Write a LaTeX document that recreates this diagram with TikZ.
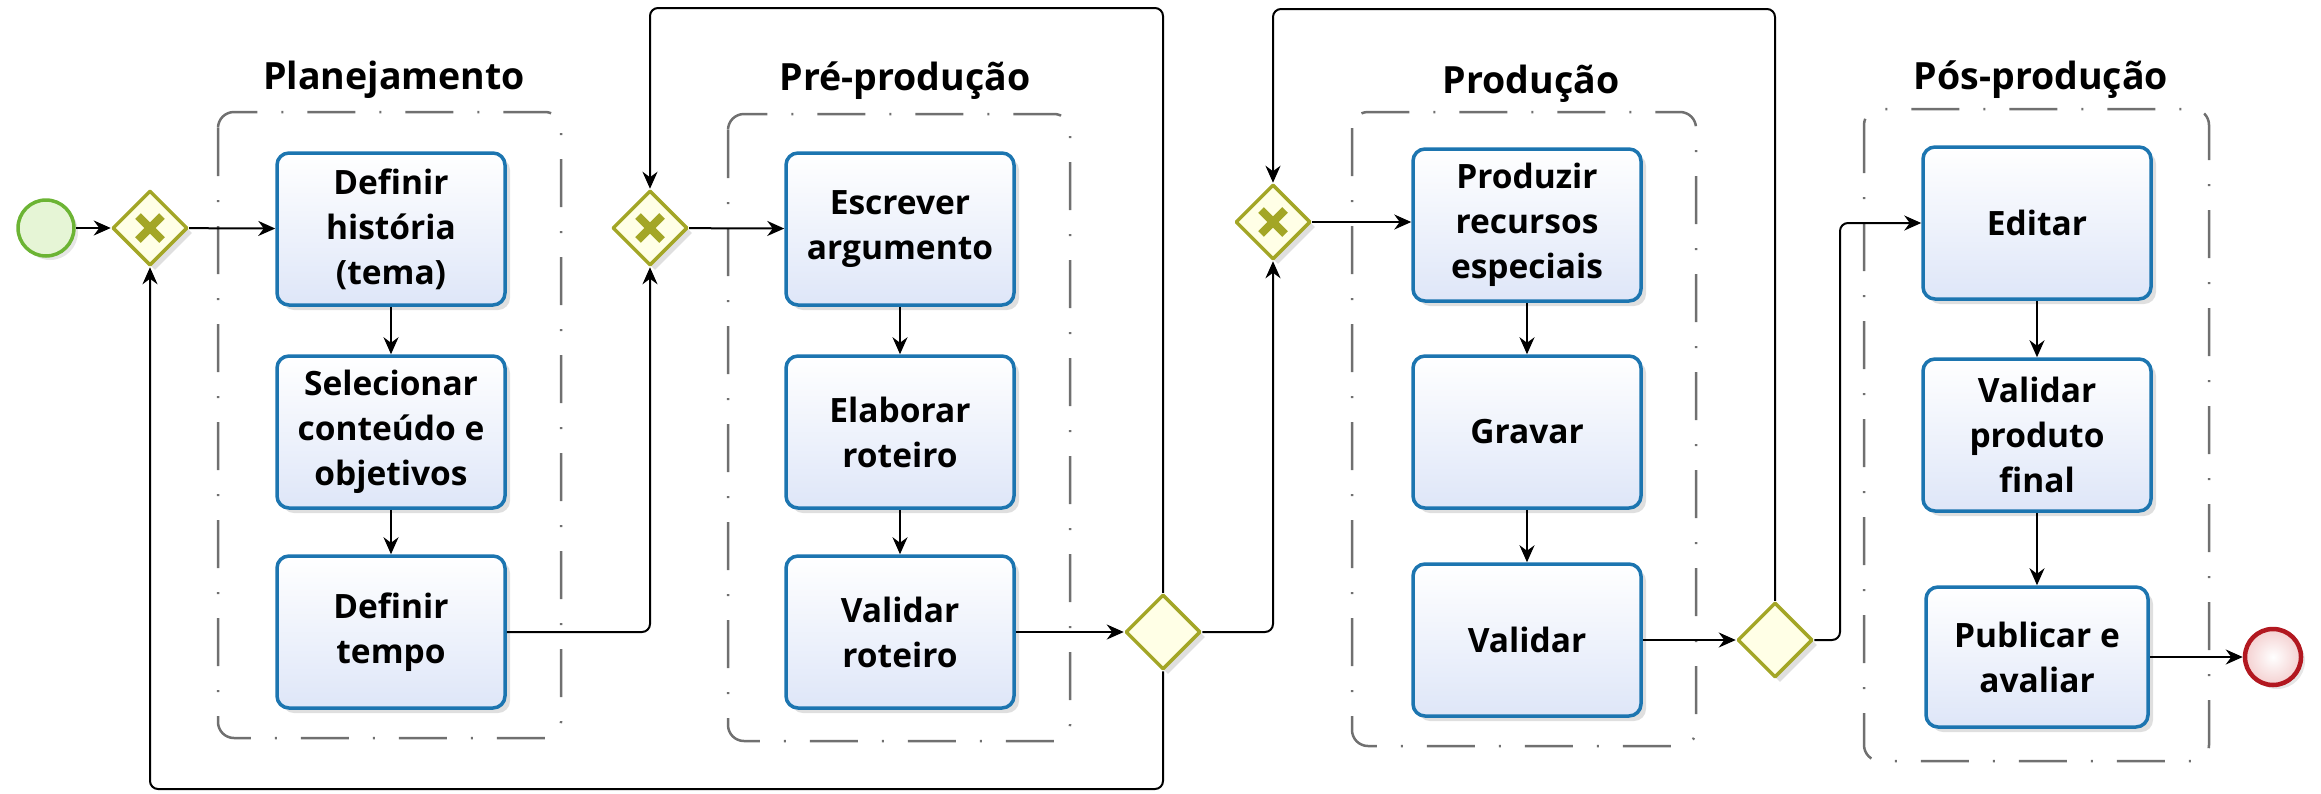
\documentclass[tikz,border=0pt]{standalone}
\usepackage{fontspec}
\setmainfont{Open Sans}
\usetikzlibrary{arrows.meta,shapes.geometric,shadows,positioning}
\definecolor{taskline}{RGB}{28,117,176}
\definecolor{taskfill}{RGB}{222,230,248}
\definecolor{gateline}{RGB}{163,166,38}
\definecolor{gatefill}{RGB}{255,255,230}
\definecolor{startline}{RGB}{108,180,52}
\definecolor{startfill}{RGB}{230,245,214}
\definecolor{endline}{RGB}{178,24,32}
\definecolor{endfill}{RGB}{244,208,208}
\definecolor{laneline}{RGB}{112,112,112}
\tikzset{
  task/.style={draw=taskline,line width=3.5pt,rounded corners=12pt,top color=white,bottom color=taskfill,
    minimum width=228pt,minimum height=152pt,align=center,inner sep=2pt,
    font=\fontsize{33.5}{45}\selectfont\bfseries,
    drop shadow={shadow xshift=5pt,shadow yshift=-5pt,opacity=.25}},
  gate/.style={diamond,aspect=1,draw=gateline,line width=3.5pt,fill=gatefill,minimum size=75pt,inner sep=0pt,
    drop shadow={shadow xshift=5pt,shadow yshift=-5pt,opacity=.25}},
  xgate/.style={gate,path picture={\draw[gateline,line width=8pt,line cap=butt]
    ([shift={(-12pt,-12pt)}]path picture bounding box.center)--([shift={(12pt,12pt)}]path picture bounding box.center)
    ([shift={(-12pt,12pt)}]path picture bounding box.center)--([shift={(12pt,-12pt)}]path picture bounding box.center);}},
  lane/.style={draw=laneline,line width=2.5pt,rounded corners=16pt,dash pattern=on 48pt off 24pt on 2pt off 24pt},
  title/.style={font=\fontsize{37.5}{42}\selectfont\bfseries,anchor=base},
  flow/.style={draw,line width=2pt,->,rounded corners=8pt},
}
\begin{document}
\begin{tikzpicture}[x=1pt,y=-1pt,>={Stealth[length=17pt,width=15pt]},line join=round]
\useasboundingbox (0,0) rectangle (2321,793);
\path
(650,8)coordinate(loopA)
(150,789)coordinate(loopB)
(1273,9)coordinate(loopC)
(1840,640)coordinate(turn)
;
\foreach \xa/\ya/\xb/\yb in {218/112/561/738,728/114/1070/741,1352/112/1696/746,1864/109/2209/761}
  \draw[lane] (\xa,\ya) rectangle (\xb,\yb);
\foreach \n/\x/\y/\t in {plan/394/89/Planejamento,pre/905/90/Pré-produção,prod/1531/93/Produção,pos/2041/89/Pós-produção}
  \node[title] (\n) at (\x,\y) {\t};
\foreach \n/\x/\y/\t in {t11/391/229/{Definir\\história\\(tema)},t12/391/432/{Selecionar\\conteúdo e\\objetivos},
  t13/391/632/{Definir\\tempo},t21/900/229/{Escrever\\argumento},t22/900/432/{Elaborar\\roteiro},
  t23/900/632/{Validar\\roteiro},t31/1527/225/{Produzir\\recursos\\especiais},t32/1527/432/Gravar,
  t33/1527/640/Validar,t41/2037/223/Editar,t42/2037/435/{Validar\\produto\\final}}
  \node[task] (\n) at (\x,\y) {\t};
\node[task,minimum width=222pt,minimum height=140pt] (t43) at (2037,657) {Publicar e\\avaliar};
\node[circle,draw=startline,line width=3.5pt,fill=startfill,minimum size=56pt,
  drop shadow={shadow xshift=4pt,shadow yshift=-4pt,opacity=.2}] (start) at (46,228) {};
\node[circle,draw=endline,line width=4.5pt,inner color=white,outer color=endfill,minimum size=56pt,
  drop shadow={shadow xshift=4pt,shadow yshift=-4pt,opacity=.2}] (end) at (2273,657) {};
\node[xgate] (g1) at (150,228) {};
\node[xgate] (g2) at (650,228) {};
\node[xgate] (g3) at (1273,222) {};
\node[gate] (d1) at (1163,632) {};
\node[gate] (d2) at (1775,640) {};
\draw[flow] (start) -- (g1);
\draw[flow] (g1) -- (t11);
\foreach \a/\b in {t11/t12,t12/t13,t21/t22,t22/t23,t31/t32,t32/t33,t41/t42,t42/t43}
  \draw[flow] (\a) -- (\b);
\draw[flow] (t13.east) -| (g2.south);
\draw[flow] (g2) -- (t21);
\draw[flow] (t23) -- (d1);
\draw[flow] (d1.north) |- (loopA) -- (g2.north);
\draw[flow] (d1.south) |- (loopB) -- (g1.south);
\draw[flow] (d1.east) -| (g3.south);
\draw[flow] (g3.east) -- (g3.east -| t31.west);
\draw[flow] (t33) -- (d2);
\draw[flow] (d2.north) |- (loopC) -- (g3.north);
\draw[flow] (d2.east) -- (turn) |- (t41.west);
\draw[flow] (t43) -- (end);
\end{tikzpicture}
\end{document}
